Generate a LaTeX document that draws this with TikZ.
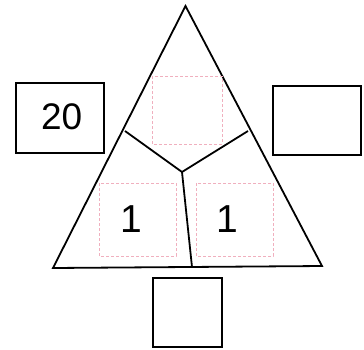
\documentclass[tikz,border=0pt]{standalone}
\usepackage{fontspec}
\setmainfont{Liberation Sans}
\definecolor{guide}{RGB}{240,175,190}
\begin{document}
\begin{tikzpicture}[x=1pt,y=-1pt,
  frame/.style={draw=black,line width=1.8pt},
  guidebox/.style={draw=guide,line width=0.6pt,densely dashed},
  answerbox/.style={draw=black,line width=1.8pt,inner sep=0pt},
  num/.style={font=\fontsize{37}{37}\selectfont,inner sep=0pt},
  bignum/.style={font=\fontsize{39}{39}\selectfont,inner sep=0pt}]
\useasboundingbox (0,0) rectangle (364,349);
% triangle corners
\coordinate (A) at (185.5,6);
\coordinate (BL) at (53,268);
\coordinate (BR) at (322,266);
\draw[frame,line join=miter] (A) -- (BL) -- (BR) -- cycle;
% inner divisions
\coordinate (L) at (125,131);
\coordinate (C) at (182,172);
\coordinate (R) at (248,131);
\coordinate (B) at (192,267);
\draw[frame] (L) -- (C) -- (R);
\draw[frame] (C) -- (B);
% pink guide squares
\draw[guidebox] (152,76) rectangle (222,144);
\draw[guidebox] (99,183) rectangle (176,256);
\draw[guidebox] (196,183) rectangle (273,256);
% outer answer boxes
\node[answerbox,minimum width=88pt,minimum height=70pt] (left) at (60,118) {};
\node[num] (twenty) at (61.7,116.7) {20};
\node[answerbox,minimum width=88pt,minimum height=69pt] (right) at (317,120.5) {};
\node[answerbox,minimum width=69pt,minimum height=69pt] (bottom) at (187.5,312.5) {};
% numbers in triangle
\node[bignum] (one1) at (131.7,219) {1};
\node[bignum] (one2) at (227.5,219) {1};
\end{tikzpicture}
\end{document}
